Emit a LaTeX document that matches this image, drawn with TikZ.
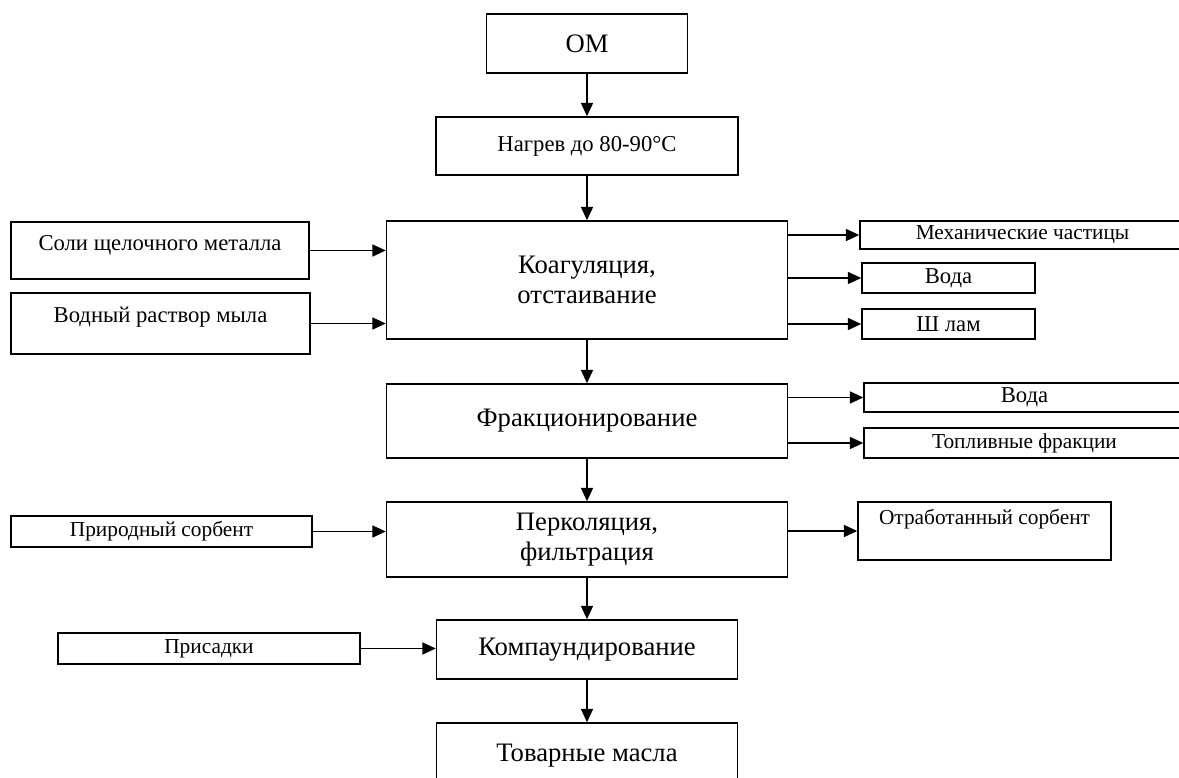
\documentclass[tikz,border=0pt]{standalone}
\usepackage{fontspec}
\setmainfont{Liberation Serif}
\usetikzlibrary{arrows.meta}

\begin{document}
\begin{tikzpicture}[x=0.75pt,y=-0.75pt,
  box/.style={draw,line width=1.1pt,inner sep=0pt,align=center,font=\fontsize{16}{20}\selectfont},
  mainbox/.style={box,font=\fontsize{20}{22.5}\selectfont},
  lifted/.style={text height=12pt,text depth=#1},
  flow/.style={-{Triangle[length=10pt,width=9pt]},line width=1.1pt}]
\useasboundingbox (0,0) rectangle (1179,778);

\node[mainbox,minimum width=150.75pt,minimum height=44.25pt] (om) at (587,43.5) {ОМ};
\node[box,font=\fontsize{17}{20}\selectfont,minimum width=226.5pt,minimum height=43.5pt] (heat) at (587,146) {Нагрев до 80-90°C};
\node[mainbox,minimum width=300.75pt,minimum height=88.5pt] (coag) at (587,280) {Коагуляция,\\ отстаивание};
\node[mainbox,minimum width=300.75pt,minimum height=55.5pt] (frac) at (587,421) {Фракционирование};
\node[mainbox,minimum width=300.75pt,minimum height=56.25pt] (perc) at (587,539.5) {Перколяция,\\ фильтрация};
\node[mainbox,minimum width=225.75pt,minimum height=44.25pt] (comp) at (587,649.5) {Компаундирование};
\node[mainbox,minimum width=225.75pt,minimum height=49.5pt] (goods) at (587,756) {Товарные масла};

\node[box,font=\fontsize{17}{20}\selectfont,lifted=12pt,minimum width=223.5pt,minimum height=42.75pt] (salt) at (160,250.5) {Соли щелочного металла};
\node[box,font=\fontsize{17}{20}\selectfont,lifted=14pt,minimum width=224.25pt,minimum height=45.75pt] (soap) at (160.5,323.5) {Водный раствор мыла};
\node[box,minimum width=225.75pt,minimum height=23.25pt] (sorb) at (161.5,531.5) {Природный сорбент};
\node[box,minimum width=226.5pt,minimum height=23.25pt] (add) at (209,648.5) {Присадки};

\node[box,minimum width=243.75pt,minimum height=21pt] (mech) at (1022.5,235) {Механические частицы};
\node[box,font=\fontsize{17}{20}\selectfont,minimum width=129.75pt,minimum height=22.5pt] (water) at (948.5,278) {Вода};
\node[box,font=\fontsize{17}{20}\selectfont,minimum width=129.75pt,minimum height=22.5pt] (sludge) at (948.5,324) {Ш лам};
\node[box,font=\fontsize{17}{20}\selectfont,minimum width=240.75pt,minimum height=21.75pt] (steam) at (1024.5,397.5) {Вода};
\node[box,minimum width=240.75pt,minimum height=22.5pt] (fuel) at (1024.5,443) {Топливные фракции};
\node[box,lifted=22pt,minimum width=189.75pt,minimum height=43.5pt] (spent) at (984.5,531) {Отработанный сорбент};

\draw[flow] (om) -- (heat);
\draw[flow] (heat) -- (coag);
\draw[flow] (coag) -- (frac);
\draw[flow] (frac) -- (perc);
\draw[flow] (perc) -- (comp);
\draw[flow] (comp) -- (goods);

\draw[flow] (salt.east) -- (salt.east -| coag.west);
\draw[flow] (soap.east) -- (soap.east -| coag.west);
\draw[flow] (sorb.east) -- (sorb.east -| perc.west);
\draw[flow] (add.east) -- (add.east -| comp.west);

\draw[flow] (mech.west -| coag.east) -- (mech.west);
\draw[flow] (water.west -| coag.east) -- (water.west);
\draw[flow] (sludge.west -| coag.east) -- (sludge.west);
\draw[flow] (steam.west -| frac.east) -- (steam.west);
\draw[flow] (fuel.west -| frac.east) -- (fuel.west);
\draw[flow] (spent.west -| perc.east) -- (spent.west);
\end{tikzpicture}
\end{document}
